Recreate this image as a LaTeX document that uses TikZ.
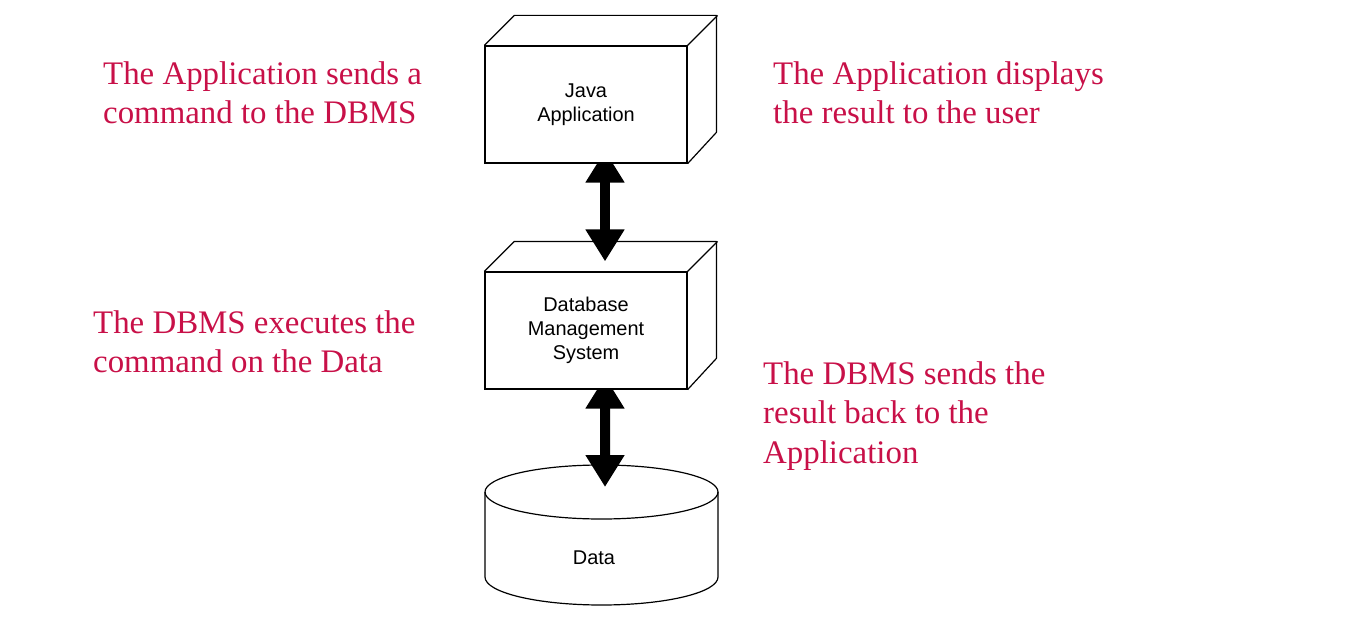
\documentclass[tikz,border=0pt]{standalone}
\usepackage{fontspec}
\setmainfont{Liberation Serif}
\setsansfont{Liberation Sans}
\usetikzlibrary{arrows.meta}
\definecolor{notered}{RGB}{200,16,72}
\pgfdeclarelayer{back}
\pgfsetlayers{back,main}

\begin{document}
\begin{tikzpicture}[x=1bp, y=-1bp,
	box/.style={draw, line width=1.2bp, fill=white, minimum width=202bp, minimum height=117bp, inner sep=0, align=center, font=\sffamily\fontsize{20}{24}\selectfont},
	edge/.style={line width=1.2bp, line join=round},
	bigarrow/.style={line width=10bp, {Triangle[width=37bp,length=32bp]}-{Triangle[width=37bp,length=32bp]}},
	note/.style={anchor=base west, align=left, inner sep=0, text=notered, font=\fontsize{33}{39.5}\selectfont}]
			\useasboundingbox (0,0) rectangle (1357,631);
			
			%boxes
			\node[box] (java) at (586,104.5) {Java\\Application};
			\draw[edge] (java.north west) -- ++(30,-30) -- ++(202,0) -- ++(0,117) -- (java.south east);
			\draw[edge] (java.north east) -- ++(30,-30);
			
			\node[box] (dbms) at (586,330.5) {Database\\Management\\System};
			\draw[edge] (dbms.north west) -- ++(30,-30) -- ++(202,0) -- ++(0,117) -- (dbms.south east);
			\draw[edge] (dbms.north east) -- ++(30,-30);
			
			%data store
			\coordinate (cyl) at (601.5,492);
			\draw[edge] (cyl) ellipse [x radius=116.5, y radius=27];
			\draw[edge] ([xshift=-116.5bp]cyl) -- ++(0,85) arc[start angle=180, end angle=0, x radius=116.5, y radius=28] -- ([xshift=116.5bp]cyl);
			\node[font=\sffamily\fontsize{20}{24}\selectfont] (data) at (594,558) {Data};
			
			%arrows
			\begin{pgfonlayer}{back}
				\draw[bigarrow] ([xshift=19bp,yshift=13bp]java.south) -- ([xshift=19bp,yshift=10bp]dbms.north);
				\draw[bigarrow] ([xshift=19bp,yshift=13bp]dbms.south) -- ([xshift=3.5bp,yshift=5bp]cyl);
			\end{pgfonlayer}
			
			%notes (placed at the baseline of their last line)
			\node[note] (sendnote) at (103,123.5) {The Application sends a\\command to the DBMS};
			\node[note] (shownote) at (773,123.5) {The Application displays\\the result to the user};
			\node[note] (execnote) at (93,372.5) {The DBMS executes the\\command on the Data};
			\node[note] (backnote) at (763,463) {The DBMS sends the\\result back to the\\Application};
\end{tikzpicture}
\end{document}
